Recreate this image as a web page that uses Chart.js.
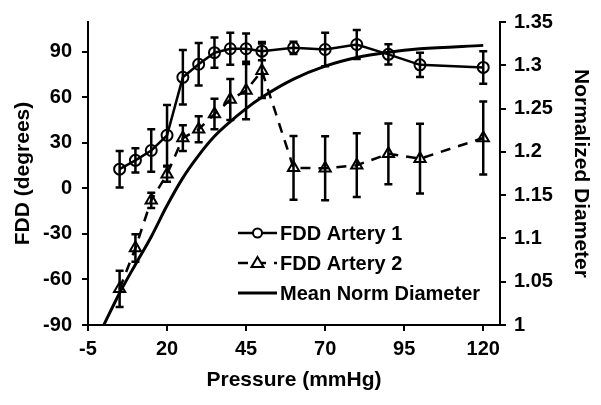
<!DOCTYPE html>
<html>
<head>
<meta charset="utf-8">
<script src="https://cdn.jsdelivr.net/npm/chart.js@4.4.1/dist/chart.umd.min.js"></script>
<style>
  html, body { margin: 0; padding: 0; background: #fff; }
  #wrap { width: 601px; height: 405px; }
</style>
</head>
<body>
<div id="wrap"><canvas id="myChart" width="601" height="405"></canvas></div>
<script>
// ---- data ----
const pressure = [5, 10, 15, 20, 25, 30, 35, 40, 45, 50, 60, 70, 80, 90, 100, 120];
const fdd1 = [12.6, 18.4, 24.9, 34.9, 73.1, 81.7, 89.3, 91.9, 91.9, 90.3, 92.5, 91.4, 94.7, 88.2, 81.3, 79.6];
const fdd1Err = [12, 8, 14, 20, 18, 14, 10, 10.5, 10, 6, 4, 11, 9.5, 6.7, 8, 10.7];
const fdd2 = [-66.2, -39.3, -7.9, 9.3, 33.1, 38.9, 48.9, 58.4, 64.4, 77.4, 13.5, 13.2, 15.2, 22.7, 19.5, 33.1];
const fdd2Err = [12, 9, 5, 5, 8.5, 8.5, 10, 13.5, 19, 18, 21, 21, 21, 20, 23, 24];
const diamPressure = [0, 5, 10, 15, 20, 25, 30, 35, 40, 45, 50, 60, 70, 80, 90, 100, 120];
const meanDiam = [1.0, 1.037, 1.07, 1.102, 1.138, 1.17, 1.196, 1.218, 1.235, 1.25, 1.263, 1.284, 1.299, 1.309, 1.315, 1.319, 1.323];

const xTicks = [-5, 20, 45, 70, 95, 120];
const fddTicks = [-90, -60, -30, 0, 30, 60, 90];
const diamTicks = [1, 1.05, 1.1, 1.15, 1.2, 1.25, 1.3, 1.35];

const seriesNames = ['FDD Artery 1', 'FDD Artery 2', 'Mean Norm Diameter'];

const toPoints = (xs, ys) => xs.map((x, i) => ({ x: x, y: ys[i] }));

Chart.defaults.font.family = '"Liberation Sans", Arial, sans-serif';
Chart.defaults.font.weight = 'bold';
Chart.defaults.color = '#000';

// error bars drawn with the chart's own scales
const errorBars = {
    id: 'errorBars',
    afterDatasetsDraw(chart) {
        const ctx = chart.ctx;
        const xs = chart.scales.x;
        const ys = chart.scales.y;
        chart.data.datasets.forEach(function (ds) {
            if (!ds.errors) return;
            ctx.save();
            ctx.strokeStyle = '#000';
            ctx.lineWidth = 2.5;
            ctx.setLineDash([]);
            ds.data.forEach(function (pt, j) {
                const x = xs.getPixelForValue(pt.x);
                const top = ys.getPixelForValue(pt.y + ds.errors[j]);
                const bot = ys.getPixelForValue(pt.y - ds.errors[j]);
                ctx.beginPath();
                ctx.moveTo(x, top); ctx.lineTo(x, bot);
                ctx.moveTo(x - 4, top); ctx.lineTo(x + 4, top);
                ctx.moveTo(x - 4, bot); ctx.lineTo(x + 4, bot);
                ctx.stroke();
            });
            ctx.restore();
        });
    }
};

// legend sitting inside the plot, like the original
const innerLegend = {
    id: 'innerLegend',
    afterDraw(chart) {
        const ctx = chart.ctx;
        const x0 = 238, x1 = 277, tx = 280;
        const rows = [233, 263, 293];
        ctx.save();
        chart.data.datasets.forEach(function (ds, i) {
            const y = rows[i];
            ctx.strokeStyle = '#000';
            ctx.lineWidth = ds.borderWidth;
            ctx.setLineDash(ds.borderDash || []);
            ctx.beginPath();
            ctx.moveTo(x0, y); ctx.lineTo(x1, y);
            ctx.stroke();
            ctx.setLineDash([]);
            const mx = (x0 + x1) / 2;
            if (ds.pointStyle === 'circle') {
                ctx.fillStyle = '#fff';
                ctx.lineWidth = 2;
                ctx.beginPath();
                ctx.arc(mx, y, 4.5, 0, Math.PI * 2);
                ctx.fill(); ctx.stroke();
            } else if (ds.pointStyle === 'triangle') {
                ctx.fillStyle = '#fff';
                ctx.lineWidth = 2;
                ctx.beginPath();
                ctx.moveTo(mx, y - 6); ctx.lineTo(mx + 6, y + 4); ctx.lineTo(mx - 6, y + 4);
                ctx.closePath();
                ctx.fill(); ctx.stroke();
            }
            ctx.fillStyle = '#000';
            ctx.font = 'bold 20px "Liberation Sans", Arial, sans-serif';
            ctx.textBaseline = 'middle';
            ctx.textAlign = 'left';
            ctx.fillText(ds.label, tx, y + 1);
        });
        ctx.restore();
    }
};

const chartCanvas = document.getElementById('myChart');

const chartConfig = {
    type: 'line',
    data: {
        datasets: [{
            label: seriesNames[0],
            data: toPoints(pressure, fdd1),
            errors: fdd1Err,
            yAxisID: 'y',
            borderColor: '#000',
            borderWidth: 2.5,
            pointStyle: 'circle',
            pointRadius: 5.5,
            pointBorderWidth: 2,
            pointBorderColor: '#000',
            pointBackgroundColor: 'rgba(0,0,0,0)',
            tension: 0,
        }, {
            label: seriesNames[1],
            data: toPoints(pressure, fdd2),
            errors: fdd2Err,
            yAxisID: 'y',
            borderColor: '#000',
            borderWidth: 2.5,
            borderDash: [10, 8],
            pointStyle: 'triangle',
            pointRadius: 6.5,
            pointBorderWidth: 2,
            pointBorderColor: '#000',
            pointBackgroundColor: 'rgba(0,0,0,0)',
            tension: 0,
        }, {
            label: seriesNames[2],
            data: toPoints(diamPressure, meanDiam),
            yAxisID: 'y2',
            borderColor: '#000',
            borderWidth: 3,
            pointRadius: 0,
            cubicInterpolationMode: 'monotone',
        }],
    },
    options: {
        responsive: false,
        animation: false,
        layout: { padding: { top: 17, left: 0, right: 0, bottom: 12 } },
        plugins: {
            legend: { display: false },
            tooltip: { enabled: false },
        },
        scales: {
            x: {
                type: 'linear',
                min: -5,
                max: 125.3,
                afterBuildTicks: function (s) { s.ticks = xTicks.map(v => ({ value: v })); },
                afterFit: function (s) { s.height = 68; },
                grid: { drawOnChartArea: false, color: '#000', lineWidth: 2, tickLength: 6 },
                border: { color: '#000', width: 2 },
                ticks: { font: { size: 20 }, padding: 6, maxRotation: 0 },
                title: { display: true, text: 'Pressure (mmHg)', font: { size: 21 }, padding: 0 },
            },
            y: {
                position: 'left',
                min: -90,
                max: 109.5,
                afterBuildTicks: function (s) { s.ticks = fddTicks.map(v => ({ value: v })); },
                afterFit: function (s) { s.width = 88; },
                grid: { drawOnChartArea: false, color: '#000', lineWidth: 2, tickLength: 6 },
                border: { color: '#000', width: 2 },
                ticks: { font: { size: 20 }, padding: 10 },
                title: { display: true, text: 'FDD (degrees)', font: { size: 21 }, padding: { top: 11, bottom: 0 } },
            },
            y2: {
                position: 'right',
                min: 1,
                max: 1.35,
                afterBuildTicks: function (s) { s.ticks = diamTicks.map(v => ({ value: v })); },
                afterFit: function (s) { s.width = 101; },
                grid: { drawOnChartArea: false, color: '#000', lineWidth: 2, tickLength: 6 },
                border: { color: '#000', width: 2 },
                ticks: { font: { size: 20 }, padding: 8, callback: function (v) { return String(v); } },
                title: { display: true, text: 'Normalized Diameter', font: { size: 21 }, padding: { top: 8, bottom: 0 } },
            },
        },
    },
    plugins: [errorBars, innerLegend],
};

const myChart = new Chart(chartCanvas, chartConfig);
</script>
</body>
</html>
